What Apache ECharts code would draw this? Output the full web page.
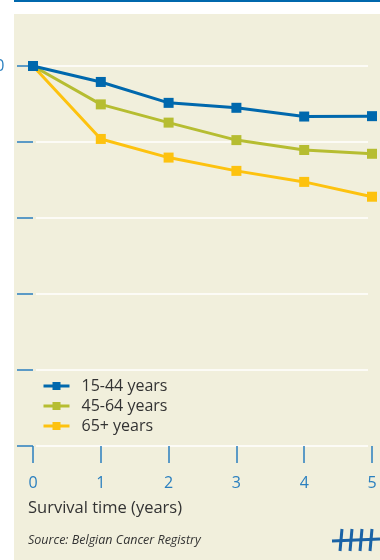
<!DOCTYPE html>
<html>
<head>
<meta charset="utf-8">
<script src="https://cdn.jsdelivr.net/npm/echarts@6/dist/echarts.min.js"></script>
<style>
  html, body { margin: 0; padding: 0; background: #fff; }
  #chart { width: 380px; height: 560px; }
</style>
</head>
<body>
<div id="chart"></div>
<script>
  // survival time (years) on x, relative survival (%) on y
  var years = [0, 1, 2, 3, 4, 5];
  var yTicks = [0, 20, 40, 60, 80, 100];
  var age15to44 = [100, 95.8, 90.3, 89.0, 86.7, 86.8];
  var age45to64 = [100, 89.9, 85.1, 80.5, 77.9, 76.9];
  var age65plus = [100, 80.8, 75.9, 72.4, 69.5, 65.6];

  var BLUE = '#0068ad', GREEN = '#b6bd31', YELLOW = '#fdc20f';
  var AXIS = '#2a7fbf', FONT = '"Open Sans", "Noto Sans", sans-serif';

  function pts(vals) {
    return years.map(function(x, i) { return [x, vals[i]]; });
  }

  function lineSeries(name, vals, color, z) {
    return {
      name: name, type: 'line', data: pts(vals),
      xAxisIndex: 0, yAxisIndex: 0, z: z,
      symbol: 'rect', symbolSize: 10,
      lineStyle: { color: color, width: 3 },
      itemStyle: { color: color },
      animation: false
    };
  }

  var chart = echarts.init(document.getElementById('chart'));

  // tally logo, bottom right
  var logo = [];
  [341, 351, 361, 371].forEach(function(x) {
    logo.push({ type: 'line', shape: { x1: x + 1, y1: 529, x2: x - 1, y2: 551 },
      style: { stroke: '#1b63a6', lineWidth: 3 } });
  });
  logo.push({ type: 'line', shape: { x1: 332, y1: 541, x2: 380, y2: 539 },
    style: { stroke: '#1b63a6', lineWidth: 3 } });

  chart.setOption({
    animation: false,
    graphic: [
      { type: 'rect', z: -10, shape: { x: 14, y: 14, width: 366, height: 546 },
        style: { fill: '#f1efdc' } },
      { type: 'rect', z: -10, shape: { x: 14, y: 0, width: 366, height: 2 },
        style: { fill: '#0068ad' } },
      { type: 'text', left: 28, top: 500,
        style: { text: 'Survival time (years)', fill: '#333', font: '16.5px ' + FONT } },
      { type: 'text', left: 28, top: 534,
        style: { text: 'Source: Belgian Cancer Registry', fill: '#333', font: 'italic 12.5px ' + FONT } }
    ].concat(logo),
    legend: {
      orient: 'vertical', left: 42, top: 378, itemGap: 4, padding: 0,
      itemWidth: 26, itemHeight: 10,
      lineStyle: { width: 3 },
      data: ['15-44 years', '45-64 years', '65+ years'],
      textStyle: { fontFamily: FONT, fontSize: 16, color: '#333', padding: [0, 0, 0, 7] }
    },
    grid: [
      { left: 33, right: 8, top: 66, bottom: 114, containLabel: false, outerBoundsMode: 'none' },
      { left: 36, right: 12, top: 66, bottom: 114, containLabel: false, outerBoundsMode: 'none' }
    ],
    xAxis: [
      { type: 'value', gridIndex: 0, min: 0, max: 5, interval: 1, offset: 4,
        axisLine: { show: false }, splitLine: { show: false },
        axisTick: { show: true, length: 17, lineStyle: { color: AXIS, width: 1.5 } },
        axisLabel: { color: AXIS, fontSize: 16, fontFamily: FONT, margin: 25,
          formatter: function(v) { return years.indexOf(v) >= 0 ? String(v) : ''; } } },
      { type: 'value', gridIndex: 1, min: 0, max: 5, show: false }
    ],
    yAxis: [
      { type: 'value', gridIndex: 0, min: 0, max: 100, interval: 20, offset: 3,
        axisLine: { show: false }, splitLine: { show: false },
        axisTick: { show: true, length: 16, lineStyle: { color: AXIS, width: 1.5 } },
        axisLabel: { color: AXIS, fontSize: 16, fontFamily: FONT, margin: 53, align: 'left',
          formatter: function(v) { return yTicks.indexOf(v) >= 0 ? String(v) : ''; } } },
      { type: 'value', gridIndex: 1, min: 0, max: 100, interval: 20,
        axisLine: { show: false }, axisTick: { show: false }, axisLabel: { show: false },
        splitLine: { show: true, lineStyle: { color: '#ffffff', width: 1.5 } } }
    ],
    series: [
      lineSeries('65+ years', age65plus, YELLOW, 2),
      lineSeries('45-64 years', age45to64, GREEN, 3),
      lineSeries('15-44 years', age15to44, BLUE, 4)
    ]
  });
</script>
</body>
</html>
